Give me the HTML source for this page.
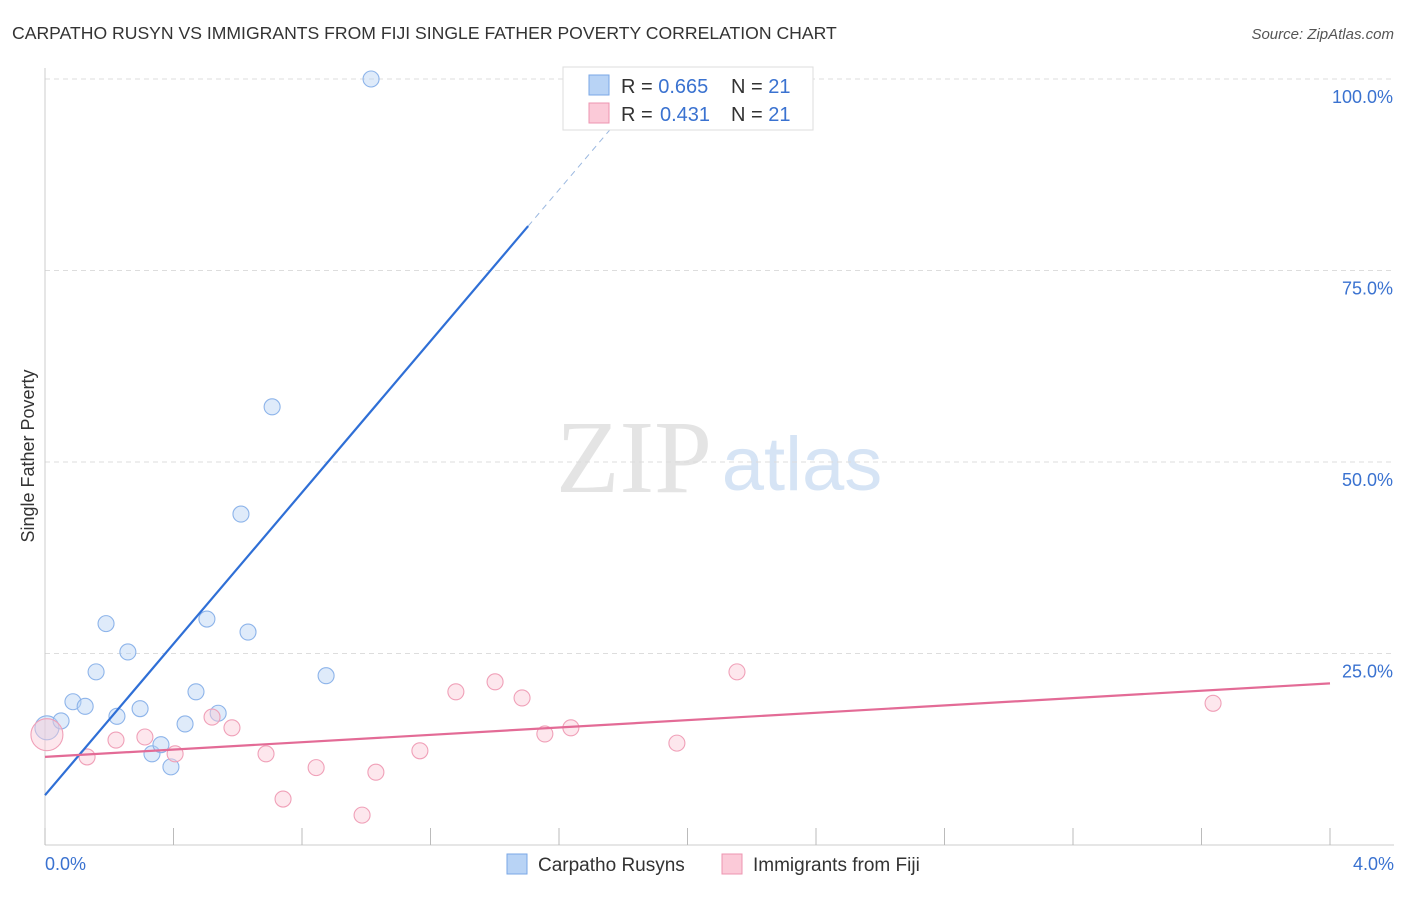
<!DOCTYPE html>
<html><head><meta charset="utf-8"><style>
body{margin:0;background:#fff;font-family:"Liberation Sans",sans-serif}
svg text{font-family:"Liberation Sans",sans-serif}
</style></head><body>
<svg id="c" width="1406" height="892" xmlns="http://www.w3.org/2000/svg">
<text x="12" y="39" font-size="17.6" fill="#333">CARPATHO RUSYN VS IMMIGRANTS FROM FIJI SINGLE FATHER POVERTY CORRELATION CHART</text>
<text x="1394" y="39" font-size="15" fill="#555" font-style="italic" text-anchor="end">Source: ZipAtlas.com</text>
<text x="634" y="492" font-size="104" fill="#e4e4e4" text-anchor="middle" style="font-family:'Liberation Serif',serif">ZIP</text>
<text x="802" y="490" font-size="76" fill="#d6e4f5" text-anchor="middle">atlas</text>
<text transform="translate(34,456) rotate(-90)" font-size="18" fill="#333" text-anchor="middle">Single Father Poverty</text>
<g id="grid"></g><g id="marks"></g>
<rect x="563" y="67" width="250" height="63" fill="#fff" stroke="#ddd"/>
<rect x="589" y="75" width="20" height="20" fill="#b8d3f5" stroke="#7aa7e6"/>
<rect x="589" y="103" width="20" height="20" fill="#fbcad8" stroke="#ee94b0"/>
<text x="621" y="93" font-size="20" fill="#333">R = <tspan fill="#3a72d0">0.665</tspan><tspan x="731">N = </tspan><tspan fill="#3a72d0">21</tspan></text>
<text x="621" y="121" font-size="20" fill="#333">R = <tspan x="660" fill="#3a72d0">0.431</tspan><tspan x="731">N = </tspan><tspan fill="#3a72d0">21</tspan></text>
<rect x="507" y="854" width="20" height="20" fill="#b8d3f5" stroke="#7aa7e6"/>
<text x="538" y="871" font-size="19" fill="#333">Carpatho Rusyns</text>
<rect x="722" y="854" width="20" height="20" fill="#fbcad8" stroke="#ee94b0"/>
<text x="753" y="871" font-size="19" fill="#333">Immigrants from Fiji</text>
</svg>
<script>
const blueX=[0.006,0.05,0.087,0.125,0.159,0.19,0.224,0.258,0.296,0.333,0.361,0.392,0.436,0.47,0.504,0.539,0.61,0.632,0.707,0.875,1.015];
const blueY=[15.3,16.2,18.7,18.1,22.6,28.9,16.8,25.2,17.8,11.9,13.1,10.2,15.8,20.0,29.5,17.2,43.2,27.8,57.2,22.1,100.0];
const pinkX=[0.006,0.131,0.221,0.311,0.405,0.52,0.582,0.688,0.741,0.844,0.987,1.03,1.167,1.279,1.401,1.485,1.556,1.637,1.967,2.154,3.636];
const pinkY=[14.4,11.5,13.7,14.1,11.9,16.7,15.3,11.9,6.0,10.1,3.9,9.5,12.3,20.0,21.3,19.2,14.5,15.3,13.3,22.6,18.5];
const blueLine=[6.5,49.4];
const pinkLine=[11.5,2.4];
const yTicks=[25,50,75,100];
const yTickLabels=["25.0%","50.0%","75.0%","100.0%"];
const xTickLabels=["0.0%","4.0%"];
const NS="http://www.w3.org/2000/svg";
const sx=v=>45+v/4*1285, sy=v=>845-v*7.66;
function mk(p,t,a){const e=document.createElementNS(NS,t);for(const k in a)e.setAttribute(k,a[k]);document.getElementById(p).appendChild(e);return e;}
yTicks.forEach((t,i)=>{
 const l=mk('grid','line',{x1:45,x2:1394,y1:sy(t),y2:sy(t),stroke:'#ddd','stroke-dasharray':'5,4'});
 
 
 const tx=mk('grid','text',{x:1393,y:sy(t)+24,'font-size':18,fill:'#3a72d0','text-anchor':'end'});
 tx.textContent=yTickLabels[i];
 
 
});
const ax=mk('grid','line',{x1:45,x2:45,y1:68,y2:845,stroke:'#ccc'});


const bx=mk('grid','line',{x1:45,x2:1394,y1:845,y2:845,stroke:'#ccc'});


for(let i=0;i<=10;i++){const t=mk('grid','line',{x1:sx(i*0.4),x2:sx(i*0.4),y1:828,y2:845,stroke:'#bbb'});
 
 }
[[0,'start',45],[4,'end',1394]].forEach((d,i)=>{const t=mk('grid','text',{x:d[2],y:870,'font-size':18,fill:'#3a72d0','text-anchor':d[1]});t.textContent=xTickLabels[i];
 
 });
function dot(x,y,r,f,s,n){const c=mk('marks','circle',{cx:sx(x),cy:sy(y),r:r,fill:f,stroke:s,'stroke-width':1.1});
 
 }
blueX.forEach((x,i)=>dot(x,blueY[i],i==0?12:8,'rgba(184,211,245,0.45)','#8db4ea','blue-point'));
pinkX.forEach((x,i)=>dot(x,pinkY[i],i==0?16:8,'rgba(251,202,216,0.45)','#f0a0b8','pink-point'));
const bl=mk('marks','line',{x1:sx(0),y1:sy(blueLine[0]),x2:sx(1.504),y2:sy(blueLine[0]+blueLine[1]*1.504),stroke:'#2f6fd6','stroke-width':2.2});


const bd=mk('marks','line',{x1:sx(1.504),y1:sy(blueLine[0]+blueLine[1]*1.504),x2:sx(1.82),y2:sy(blueLine[0]+blueLine[1]*1.82),stroke:'#9bb8e0','stroke-width':1,'stroke-dasharray':'6,5'});


const pl=mk('marks','line',{x1:sx(0),y1:sy(pinkLine[0]),x2:sx(4),y2:sy(pinkLine[0]+pinkLine[1]*4),stroke:'#e36b96','stroke-width':2.2});


</script>
</body></html>
